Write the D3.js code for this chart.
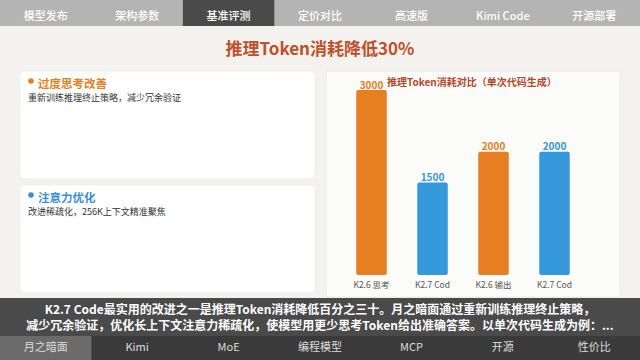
<!DOCTYPE html>
<html>
<head>
<meta charset="utf-8">
<script src="https://cdn.jsdelivr.net/npm/d3@7"></script>
<style>
  html, body { margin: 0; padding: 0; background: #f3f2ee; }
  svg { display: block; font-family: "Noto Sans CJK SC", "Noto Sans", sans-serif; }
</style>
</head>
<body>
<div id="chart"></div>
<script>
// data
var topTabs = ["模型发布", "架构参数", "基准评测", "定价对比", "高速版", "Kimi Code", "开源部署"];
var bottomTabs = ["月之暗面", "Kimi", "MoE", "编程模型", "MCP", "开源", "性价比"];
var categories = ["K2.6 思考", "K2.7 Cod", "K2.6 输出", "K2.7 Cod"];
var tokens = [3000, 1500, 2000, 2000];
var versions = ["K2.6", "K2.7", "K2.6", "K2.7"];
var cardTitles = ["过度思考改善", "注意力优化"];
var cardTexts = ["重新训练推理终止策略，减少冗余验证", "改进稀疏化，256K上下文精准聚焦"];
var captionLines = [
  "K2.7 Code最实用的改进之一是推理Token消耗降低百分之三十。月之暗面通过重新训练推理终止策略，",
  "减少冗余验证，优化长上下文注意力稀疏化，使模型用更少思考Token给出准确答案。以单次代码生成为例：..."
];

var width = 640, height = 360;
var orange = "#e67e22", blue = "#3498db";

var svg = d3.select("#chart").append("svg")
    .attr("width", width)
    .attr("height", height);

svg.append("rect")
    .attr("width", width)
    .attr("height", height)
    .attr("fill", "#f3f2ee");

// top nav
var tabX = d3.scaleBand().domain(d3.range(topTabs.length)).range([0, width]);

svg.append("rect")
    .attr("width", width)
    .attr("height", 26)
    .attr("fill", "#b4b4b4");

svg.selectAll(".toptab")
    .data(topTabs)
  .enter().append("rect")
    .attr("x", function(d, i) { return tabX(i); })
    .attr("width", tabX.bandwidth())
    .attr("height", 26)
    .attr("fill", function(d, i) { return i === 2 ? "#4a4a4a" : "none"; });

svg.selectAll(".toptext")
    .data(topTabs)
  .enter().append("text")
    .attr("x", function(d, i) { return tabX(i) + tabX.bandwidth() / 2; })
    .attr("y", 17)
    .attr("text-anchor", "middle")
    .attr("dominant-baseline", "middle")
    .attr("font-size", 11)
    .attr("font-weight", 500)
    .attr("fill", "#fff")
    .text(function(d) { return d; });

// main title
svg.append("text")
    .attr("x", width / 2)
    .attr("y", 50)
    .attr("text-anchor", "middle")
    .attr("dominant-baseline", "middle")
    .attr("font-size", 17)
    .attr("font-weight", 700)
    .attr("fill", "#c0502a")
    .text("推理Token消耗降低30%");

// left cards
var cardY = [71, 185];
var cardColors = [orange, "#3a8fd4"];

var cards = svg.selectAll(".card")
    .data(cardTitles)
  .enter().append("g")
    .attr("transform", function(d, i) { return "translate(20," + cardY[i] + ")"; });

cards.append("rect")
    .attr("width", 295)
    .attr("height", 108)
    .attr("rx", 5)
    .attr("fill", "#ffffff")
    .attr("stroke", "#ecebe7")
    .attr("stroke-width", 0.6);

cards.append("circle")
    .attr("cx", 11)
    .attr("cy", 10)
    .attr("r", 2.8)
    .attr("fill", function(d, i) { return cardColors[i]; });

cards.append("text")
    .attr("x", 18)
    .attr("y", 14)
    .attr("dominant-baseline", "middle")
    .attr("font-size", 11.5)
    .attr("font-weight", 700)
    .attr("fill", function(d, i) { return cardColors[i]; })
    .text(function(d) { return d; });

cards.append("text")
    .attr("x", 8)
    .attr("y", 28)
    .attr("dominant-baseline", "middle")
    .attr("font-size", 9)
    .attr("fill", "#333")
    .text(function(d, i) { return cardTexts[i]; });

// right chart panel
svg.append("rect")
    .attr("x", 326)
    .attr("y", 71)
    .attr("width", 294)
    .attr("height", 226)
    .attr("rx", 3)
    .attr("fill", "#fbfbf9")
    .attr("stroke", "#e8e7e3")
    .attr("stroke-width", 0.8);

svg.append("text")
    .attr("x", 387)
    .attr("y", 83)
    .attr("dominant-baseline", "middle")
    .attr("font-size", 10)
    .attr("font-weight", 700)
    .attr("fill", "#b5482a")
    .text("推理Token消耗对比（单次代码生成）");

var x = d3.scaleBand()
    .domain(d3.range(categories.length))
    .range([341, 585])
    .paddingInner(0.5)
    .paddingOuter(0.25);

var y = d3.scaleLinear()
    .domain([0, 3000])
    .range([275, 90]);

var color = d3.scaleOrdinal().domain(["K2.6", "K2.7"]).range([orange, blue]);

svg.selectAll(".bar")
    .data(tokens)
  .enter().append("rect")
    .attr("class", "bar")
    .attr("x", function(d, i) { return x(i); })
    .attr("y", function(d) { return y(d); })
    .attr("width", x.bandwidth())
    .attr("height", function(d) { return y(0) - y(d); })
    .attr("rx", 2)
    .attr("fill", function(d, i) { return color(versions[i]); });

svg.selectAll(".val")
    .data(tokens)
  .enter().append("text")
    .attr("x", function(d, i) { return x(i) + x.bandwidth() / 2; })
    .attr("y", function(d) { return y(d) - 1.5; })
    .attr("text-anchor", "middle")
    .attr("font-size", 10)
    .attr("font-weight", 700)
    .attr("fill", function(d, i) { return color(versions[i]); })
    .text(function(d) { return d; });

var xAxis = svg.append("g")
    .attr("transform", "translate(0," + y(0) + ")")
    .call(d3.axisBottom(x).tickSize(0).tickPadding(7)
        .tickFormat(function(i) { return categories[i]; }));
xAxis.select(".domain").remove();
xAxis.selectAll("text")
    .attr("font-family", "Noto Sans CJK SC, Noto Sans, sans-serif")
    .attr("font-size", 8.5)
    .attr("fill", "#555");

// caption
svg.append("rect")
    .attr("y", 298)
    .attr("width", width)
    .attr("height", 38)
    .attr("fill", "#4a4a4a");

svg.selectAll(".cap")
    .data(captionLines)
  .enter().append("text")
    .attr("x", width / 2)
    .attr("y", function(d, i) { return 311 + i * 16; })
    .attr("text-anchor", "middle")
    .attr("dominant-baseline", "middle")
    .attr("font-size", 12)
    .attr("font-weight", 700)
    .attr("fill", "#fff")
    .text(function(d) { return d; });

// bottom nav
svg.append("rect")
    .attr("y", 336)
    .attr("width", width)
    .attr("height", 24)
    .attr("fill", "#3a3a3a");

svg.selectAll(".bottab")
    .data(bottomTabs)
  .enter().append("rect")
    .attr("x", function(d, i) { return tabX(i); })
    .attr("y", 336)
    .attr("width", tabX.bandwidth())
    .attr("height", 24)
    .attr("fill", function(d, i) { return i === 0 ? "#6b6b6b" : "none"; });

svg.selectAll(".bottext")
    .data(bottomTabs)
  .enter().append("text")
    .attr("x", function(d, i) { return tabX(i) + tabX.bandwidth() / 2; })
    .attr("y", 348)
    .attr("text-anchor", "middle")
    .attr("dominant-baseline", "middle")
    .attr("font-size", 11)
    .attr("fill", "#ddd")
    .text(function(d) { return d; });
</script>
</body>
</html>
